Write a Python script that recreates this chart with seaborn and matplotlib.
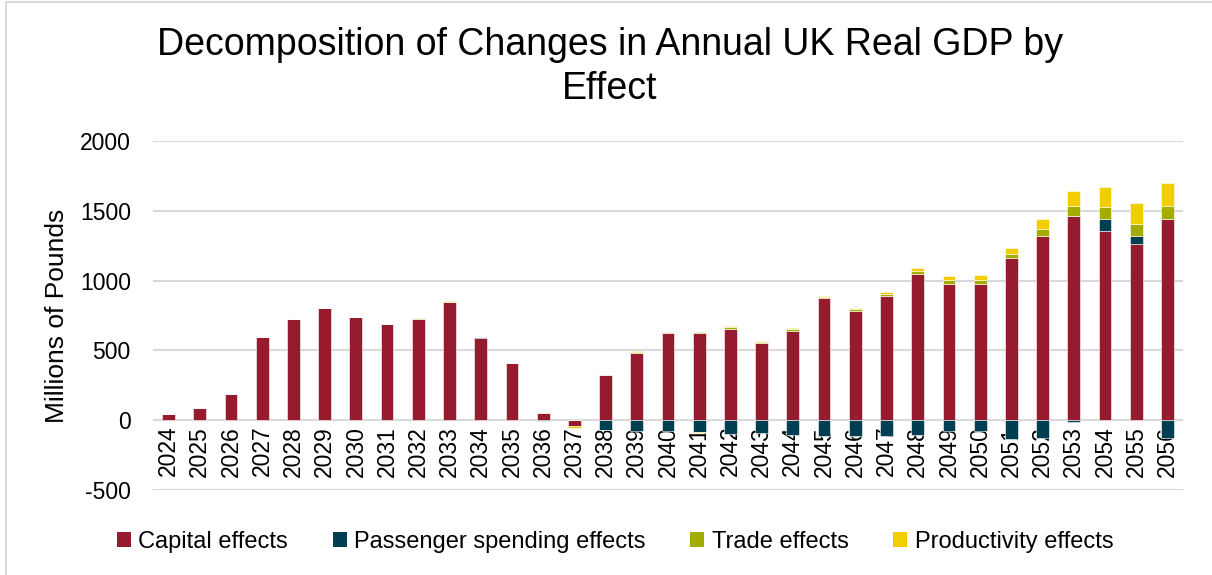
import numpy as np
import pandas as pd
import matplotlib
matplotlib.use("Agg")
import matplotlib.pyplot as plt
from matplotlib.lines import Line2D
from matplotlib.patches import Patch
import seaborn as sns

# Annual change in UK real GDP (GBP millions), split by effect
years = [str(y) for y in range(2024, 2057)]
capital = [43, 86, 191, 596, 723, 802, 737, 687, 727, 845, 591, 407, 55, -45,
           321, 483, 622, 627, 656, 551, 641, 876, 784, 889, 1047, 978, 978,
           1162, 1319, 1463, 1358, 1260, 1444]
passenger = [0, 0, 0, 0, 0, 0, 0, 0, 0, 0, 3, 2, -4, 0,
             -68, -80, -80, -85, -98, -92, -108, -112, -115, -110, -108, -79, -79,
             -136, -131, -12, 86, 60, -131]
trade = [0, 0, 0, 0, 0, 0, 0, 0, 3, 3, 0, 0, 0, 0,
         6, 6, 8, 8, 10, 8, 10, 10, 10, 12, 22, 26, 26,
         26, 50, 72, 86, 88, 91]
productivity = [0, 0, 0, 0, 0, 0, 0, 0, 3, 4, 0, 0, -3, -10,
                -5, 5, 4, -5, 8, 6, 8, 7, 10, 14, 22, 29, 33,
                43, 69, 110, 141, 151, 163]

series_names = ["Capital effects", "Passenger spending effects",
                "Trade effects", "Productivity effects"]
series_values = [capital, passenger, trade, productivity]
series_colors = ["#971B2F", "#003E51", "#A2AD00", "#F2CD00"]

sns.set_theme(style="white")
plt.rcParams["font.family"] = ["Liberation Sans", "DejaVu Sans"]
plt.rcParams["text.color"] = "black"
plt.rcParams["axes.labelcolor"] = "black"

fig = plt.figure(figsize=(12.12, 5.75), dpi=100)
ax = fig.add_axes([153 / 1212, 1 - 490 / 575, 1030 / 1212, 349 / 575])

# Stack positives upward and negatives downward, as in a stacked column chart
pos_base = np.zeros(len(years))
neg_base = np.zeros(len(years))
for name, vals, col in zip(series_names, series_values, series_colors):
    v = np.asarray(vals, dtype=float)
    bottoms = np.where(v >= 0, pos_base, neg_base)
    df = pd.DataFrame({"year": years, "value": v})
    sns.barplot(data=df, x="year", y="value", order=years, color=col,
                saturation=1, width=0.41, bottom=bottoms, ax=ax,
                edgecolor="white", linewidth=0.4, errorbar=None)
    pos_base += np.clip(v, 0, None)
    neg_base += np.clip(v, None, 0)

ax.set_xlim(-0.5, len(years) - 0.5)
ax.set_ylim(-500, 2000)
ax.set_yticks([-500, 0, 500, 1000, 1500, 2000])
ax.set_yticklabels(["-500", "0", "500", "1000", "1500", "2000"], fontsize=16.5)
ax.yaxis.grid(True, color="#d9d9d9", linewidth=1.5)
ax.set_axisbelow(True)
for s in ax.spines.values():
    s.set_visible(False)
ax.spines["bottom"].set_position(("data", 0))
ax.tick_params(axis="y", length=0, pad=16, colors="black")
ax.tick_params(axis="x", length=0, pad=4, colors="black")
ax.set_xticks(range(len(years)))
ax.set_xticklabels(years, rotation=90, fontsize=16.5, va="top")
ax.set_xlabel("")
ax.set_ylabel("Millions of Pounds", fontsize=19, labelpad=8)

fig.text(610 / 1212, 1 - 27 / 575,
         "Decomposition of Changes in Annual UK Real GDP by\nEffect",
         ha="center", va="top", fontsize=27, linespacing=1.3, color="black")

handles = [Patch(facecolor=c, edgecolor="none") for c in series_colors]
fig.legend(handles, series_names, loc="center", ncol=4,
           bbox_to_anchor=(615 / 1212, 1 - 542 / 575), frameon=False,
           fontsize=17, handlelength=0.6, handleheight=0.6, handletextpad=0.3,
           columnspacing=1.9)

# light chart-area frame
frame_col = "#d9d9d9"
fig.add_artist(Line2D([6 / 1212, 1], [1 - 1.5 / 575, 1 - 1.5 / 575],
                      transform=fig.transFigure, color=frame_col, linewidth=1.5))
fig.add_artist(Line2D([6 / 1212, 6 / 1212], [0, 1 - 1.5 / 575],
                      transform=fig.transFigure, color=frame_col, linewidth=1.5))

fig.savefig("out.png", dpi=100, facecolor="white")
